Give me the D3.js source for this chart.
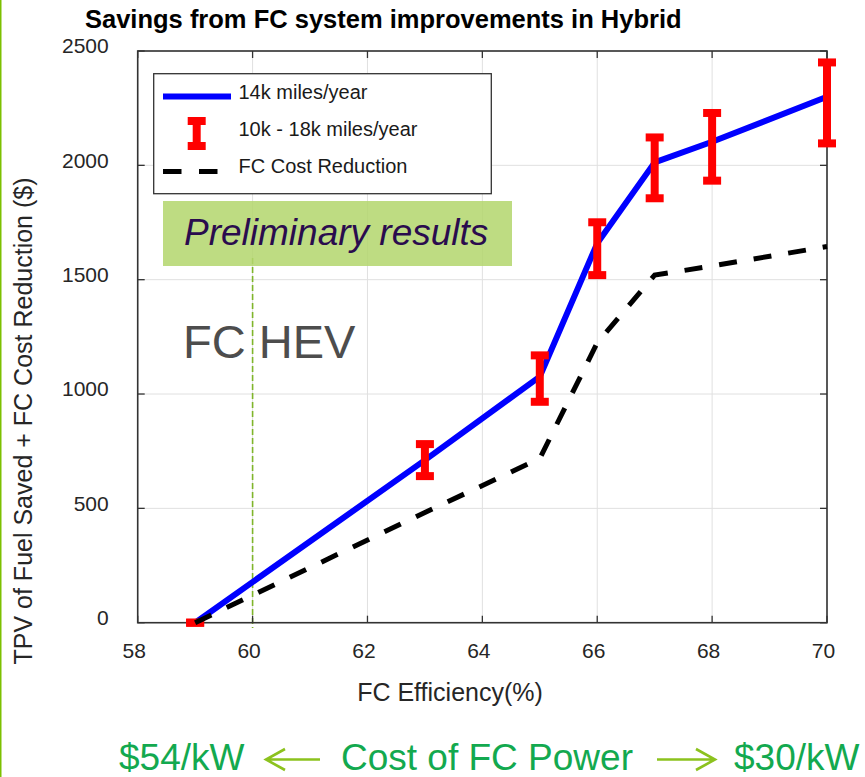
<!DOCTYPE html>
<meta charset="utf-8">
<style>
    body { margin: 0; background: #fff; }
    svg { font-family: "Liberation Sans", Arial, sans-serif; }
    .grid line { stroke: #e0e0e0; stroke-width: 1; }
    .axis path { display: none; }
    .axis text { fill: #262626; font-size: 21px; }
</style>
<body>
<script src="https://cdn.jsdelivr.net/npm/d3@7"></script>
<script>

    // FC efficiency (%) at which results were computed
    var efficiency = [59, 63, 65, 66, 67, 68, 70];
    // 14k miles/year savings ($)
    var savings14k = [0, 711, 1076, 1659, 2013, 2103, 2300];
    // error bar range: 10k and 18k miles/year
    var savings10k = [0, 641, 966, 1520, 1856, 1933, 2096];
    var savings18k = [0, 781, 1169, 1751, 2122, 2229, 2450];
    // FC cost reduction ($)
    var costReduction = [0, 482, 718, 1224, 1520, 1560, 1645];

    var xTicks = [58, 60, 62, 64, 66, 68, 70];
    var yTicks = [0, 500, 1000, 1500, 2000, 2500];
    var legendLabels = ["14k miles/year", "10k - 18k miles/year", "FC Cost Reduction"];

    var width = 865,
        height = 777;

    var svg = d3.select("body").append("svg")
        .attr("width", width)
        .attr("height", height);

    // slide border on the left
    svg.append("line")
        .attr("x1", 0.75).attr("x2", 0.75)
        .attr("y1", 0).attr("y2", height)
        .style("stroke", "#7cc000")
        .style("stroke-width", 1.5);

    var x = d3.scaleLinear().domain([58, 70]).range([137.7, 827]);
    var y = d3.scaleLinear().domain([0, 2500]).range([622.7, 51]);

    // grid
    var grid = svg.append("g").attr("class", "grid");
    grid.selectAll(".gx").data(xTicks).enter().append("line")
        .attr("x1", function(d){ return x(d); })
        .attr("x2", function(d){ return x(d); })
        .attr("y1", y(0)).attr("y2", y(2500));
    grid.selectAll(".gy").data(yTicks).enter().append("line")
        .attr("x1", x(58)).attr("x2", x(70))
        .attr("y1", function(d){ return y(d); })
        .attr("y2", function(d){ return y(d); });

    // green dashed marker at 60%
    svg.append("line")
        .attr("x1", x(60)).attr("x2", x(60))
        .attr("y1", 258).attr("y2", 628)
        .style("stroke", "#7fb52a")
        .style("stroke-width", 1.6)
        .style("stroke-dasharray", "6,3");

    // inside ticks on all four sides
    var tk = 7;
    var ticks = svg.append("g").style("stroke", "#333").style("stroke-width", 1.3);
    xTicks.forEach(function(d){
        ticks.append("line").attr("x1", x(d)).attr("x2", x(d)).attr("y1", y(0)).attr("y2", y(0) - tk);
        ticks.append("line").attr("x1", x(d)).attr("x2", x(d)).attr("y1", y(2500)).attr("y2", y(2500) + tk);
    });
    yTicks.forEach(function(d){
        ticks.append("line").attr("x1", x(58)).attr("x2", x(58) + tk).attr("y1", y(d)).attr("y2", y(d));
        ticks.append("line").attr("x1", x(70)).attr("x2", x(70) - tk).attr("y1", y(d)).attr("y2", y(d));
    });

    // frame
    svg.append("rect")
        .attr("x", x(58)).attr("y", y(2500))
        .attr("width", x(70) - x(58)).attr("height", y(0) - y(2500))
        .style("fill", "none")
        .style("stroke", "#333")
        .style("stroke-width", 1.6);

    // axes (labels only)
    svg.append("g").attr("class", "axis")
        .attr("transform", "translate(0," + y(0) + ")")
        .call(d3.axisBottom(x).tickValues(xTicks).tickSize(0).tickPadding(20).tickFormat(d3.format("d")))
        .selectAll("text").attr("dx", "-4");
    svg.append("g").attr("class", "axis")
        .attr("transform", "translate(" + x(58) + ",0)")
        .call(d3.axisLeft(y).tickValues(yTicks).tickSize(0).tickPadding(29).tickFormat(d3.format("d")))
        .selectAll("text").attr("dy", "0.08em");

    // preliminary results box
    svg.append("rect")
        .attr("x", 163).attr("y", 201)
        .attr("width", 349).attr("height", 65)
        .style("fill", "#b3d66c")
        .style("opacity", 0.85);
    svg.append("text")
        .attr("x", 184).attr("y", 245)
        .style("font-size", "37px")
        .style("font-style", "italic")
        .style("fill", "#2a0c4e")
        .text("Preliminary results");

    svg.append("text")
        .attr("x", 183).attr("y", 358)
        .style("font-size", "47px")
        .style("fill", "#4d4d4d")
        .text("FC HEV");

    // 14k miles/year line
    var line = d3.line()
        .x(function(d){ return x(d[0]); })
        .y(function(d){ return y(d[1]); });

    svg.append("path")
        .datum(d3.zip(efficiency, savings14k))
        .attr("d", line)
        .style("fill", "none")
        .style("stroke", "#0000ff")
        .style("stroke-width", 6)
        .style("stroke-linejoin", "round");

    // error bars
    var cap = 9;
    var bars = svg.append("g").style("stroke", "#ff0000").style("stroke-width", 8);
    efficiency.forEach(function(e, i){
        var g = bars.append("g");
        g.append("line").attr("x1", x(e)).attr("x2", x(e))
            .attr("y1", y(savings10k[i])).attr("y2", y(savings18k[i]));
        g.append("line").attr("x1", x(e) - cap).attr("x2", x(e) + cap)
            .attr("y1", y(savings10k[i])).attr("y2", y(savings10k[i]));
        g.append("line").attr("x1", x(e) - cap).attr("x2", x(e) + cap)
            .attr("y1", y(savings18k[i])).attr("y2", y(savings18k[i]));
    });

    // FC cost reduction
    svg.append("path")
        .datum(d3.zip(efficiency, costReduction))
        .attr("d", line)
        .style("fill", "none")
        .style("stroke", "#000")
        .style("stroke-width", 5)
        .style("stroke-dasharray", "18,17");

    // legend
    var leg = svg.append("g");
    leg.append("rect")
        .attr("x", 153.7).attr("y", 73.7)
        .attr("width", 337.6).attr("height", 120)
        .style("fill", "#fff")
        .style("stroke", "#333")
        .style("stroke-width", 1.3);
    leg.append("line")
        .attr("x1", 163).attr("x2", 231).attr("y1", 96.5).attr("y2", 96.5)
        .style("stroke", "#0000ff").style("stroke-width", 6);
    var lg = leg.append("g").style("stroke", "#ff0000").style("stroke-width", 8);
    lg.append("line").attr("x1", 196.7).attr("x2", 196.7).attr("y1", 121).attr("y2", 146);
    lg.append("line").attr("x1", 196.7 - cap).attr("x2", 196.7 + cap).attr("y1", 121).attr("y2", 121);
    lg.append("line").attr("x1", 196.7 - cap).attr("x2", 196.7 + cap).attr("y1", 146).attr("y2", 146);
    leg.append("line")
        .attr("x1", 163).attr("x2", 231).attr("y1", 171.5).attr("y2", 171.5)
        .style("stroke", "#000").style("stroke-width", 5)
        .style("stroke-dasharray", "18.5,17.5");
    leg.selectAll("text.lt").data(legendLabels).enter().append("text")
        .attr("x", 238.5)
        .attr("y", function(d, i){ return [99, 136, 173][i]; })
        .style("font-size", "20px")
        .style("fill", "#1a1a1a")
        .text(function(d){ return d; });

    // title
    svg.append("text")
        .attr("x", 85).attr("y", 28)
        .style("font-size", "25.5px")
        .style("font-weight", "bold")
        .style("fill", "#000")
        .text("Savings from FC system improvements in Hybrid");

    // axis titles
    svg.append("text")
        .attr("x", 450).attr("y", 701)
        .attr("text-anchor", "middle")
        .style("font-size", "25px")
        .style("fill", "#262626")
        .text("FC Efficiency(%)");
    svg.append("text")
        .attr("transform", "translate(32,421) rotate(-90)")
        .attr("text-anchor", "middle")
        .style("font-size", "25px")
        .style("fill", "#262626")
        .text("TPV of Fuel Saved + FC Cost Reduction ($)");

    // cost of FC power annotation
    var green = "#13a94f", olive = "#8cc21e";
    function costText(tx, s){
        svg.append("text")
            .attr("x", tx).attr("y", 770)
            .style("font-size", "37px")
            .style("fill", green)
            .text(s);
    }
    costText(119, "$54/kW");
    costText(341, "Cost of FC Power");
    costText(734, "$30/kW");

    function arrow(x1, x2){
        var dir = x2 > x1 ? 1 : -1;
        svg.append("path")
            .attr("d", "M" + x1 + ",759.5H" + x2 +
                "M" + (x2 - dir * 19) + ",749L" + x2 + ",759.5L" + (x2 - dir * 19) + ",770")
            .style("fill", "none")
            .style("stroke", olive)
            .style("stroke-width", 2.6);
    }
    arrow(320, 266);
    arrow(657, 715);

</script>
